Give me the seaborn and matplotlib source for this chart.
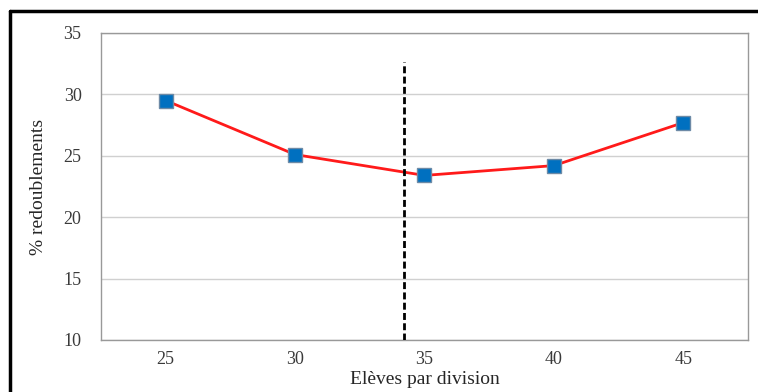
import pandas as pd
import matplotlib
matplotlib.use("Agg")
import matplotlib.pyplot as plt
import seaborn as sns
from matplotlib.lines import Line2D

# données
eleves = [25, 30, 35, 40, 45]
redoublements = [29.5, 25.1, 23.4, 24.2, 27.7]
seuil_x = 34.2
seuil_haut = 32.6
y_ticks = [10, 15, 20, 25, 30, 35]

df = pd.DataFrame({"eleves": eleves, "redoublements": redoublements})

sns.set_style("white")
plt.rcParams['font.family'] = ['Liberation Serif', 'DejaVu Serif']

fig = plt.figure(figsize=(7.58, 3.92), dpi=100)
ax = fig.add_axes([0.1332, 0.1327, 0.8536, 0.7832])

sns.lineplot(data=df, x="eleves", y="redoublements", ax=ax, color="#ff1a1a",
             linewidth=2, marker="s", markersize=10,
             markerfacecolor="#0070c0", markeredgecolor="#6d8aa6",
             markeredgewidth=1)

# ligne pointillée verticale
ax.vlines(seuil_x, y_ticks[0], seuil_haut, colors="black",
          linestyles=(0, (2.5, 1.2)), linewidth=2, zorder=4)

ax.set_xlim(22.5, 47.5)
ax.set_ylim(y_ticks[0], y_ticks[-1])
ax.set_xticks(eleves)
ax.set_yticks(y_ticks)
ax.tick_params(axis="both", length=0, labelsize=13, colors="#3a3a3a")
ax.tick_params(axis="y", pad=14)
ax.tick_params(axis="x", pad=8)
ax.yaxis.grid(True, color="#d0d0d0", linewidth=1)
ax.xaxis.grid(False)
for s in ax.spines.values():
    s.set_color("#999999")
    s.set_linewidth(1)

ax.set_xlabel("Elèves par division", fontsize=14, labelpad=2)
ax.set_ylabel("% redoublements", fontsize=14, labelpad=12)

# bordure extérieure noire (haut et gauche)
fig.add_artist(Line2D([0.0132, 0.0132], [0, 0.972], color="black", linewidth=2.5,
                      transform=fig.transFigure))
fig.add_artist(Line2D([0.0132, 1.0], [0.972, 0.972], color="black", linewidth=2.5,
                      transform=fig.transFigure))

fig.savefig("out.png", dpi=100)
